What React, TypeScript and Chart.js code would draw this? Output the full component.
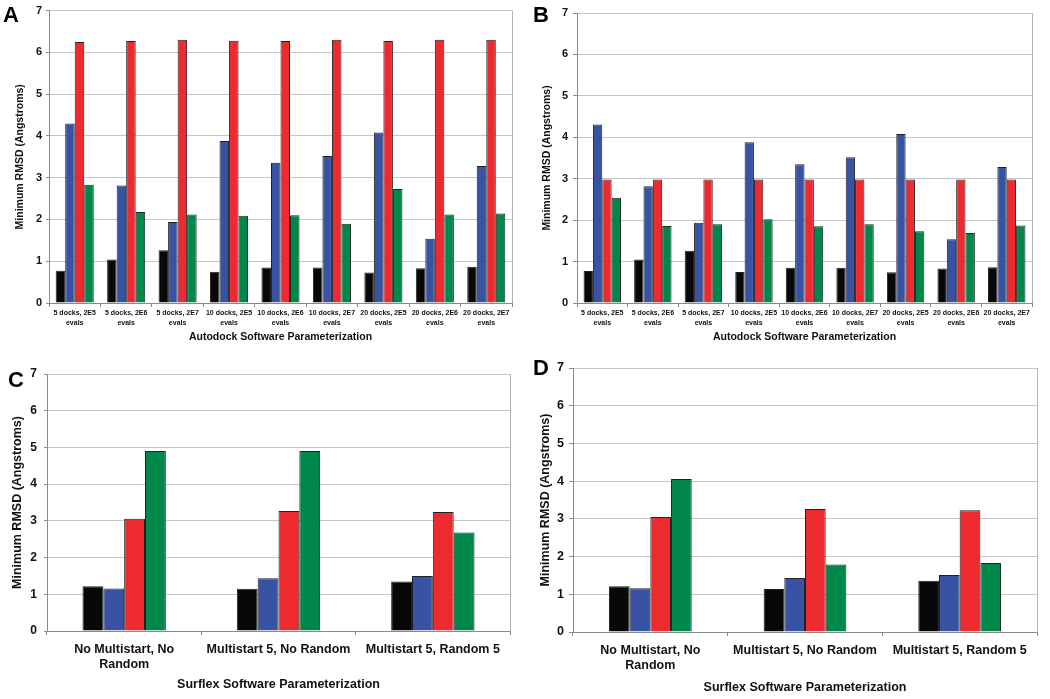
import React, { useEffect, useRef } from "react";
import { Chart, registerables } from "chart.js";

Chart.register(...registerables);

const FONT = "'Liberation Sans', Arial, Helvetica, sans-serif";

// ---------- data ----------
const autodockCategories: (string | string[])[] = [
  ["5 docks, 2E5", "evals"],
  ["5 docks, 2E6", "evals"],
  ["5 docks, 2E7", "evals"],
  ["10 docks, 2E5", "evals"],
  ["10 docks, 2E6", "evals"],
  ["10 docks, 2E7", "evals"],
  ["20 docks, 2E5", "evals"],
  ["20 docks, 2E6", "evals"],
  ["20 docks, 2E7", "evals"],
];
const surflexCategories: (string | string[])[] = [
  ["No Multistart, No", "Random"],
  "Multistart 5, No Random",
  "Multistart 5, Random 5",
];
const yTickValues = [0, 1, 2, 3, 4, 5, 6, 7];
const yAxisTitle = "Minimum RMSD (Angstroms)";
const autodockAxisTitle = "Autodock Software Parameterization";
const surflexAxisTitle = "Surflex Software Parameterization";

const seriesNames = ["Series 1", "Series 2", "Series 3", "Series 4"];
const seriesColors = ["#080808", "#3953a4", "#ed2a30", "#00884a"];

// Panel A
const aSeries1 = [0.77, 1.04, 1.26, 0.75, 0.85, 0.85, 0.73, 0.83, 0.87];
const aSeries2 = [4.3, 2.81, 1.94, 3.88, 3.36, 3.52, 4.08, 1.54, 3.28];
const aSeries3 = [6.25, 6.27, 6.3, 6.28, 6.27, 6.3, 6.27, 6.3, 6.3];
const aSeries4 = [2.83, 2.18, 2.12, 2.09, 2.1, 1.9, 2.73, 2.12, 2.14];

// Panel B
const bSeries1 = [0.77, 1.05, 1.26, 0.75, 0.85, 0.85, 0.74, 0.83, 0.86];
const bSeries2 = [4.31, 2.82, 1.94, 3.88, 3.35, 3.52, 4.08, 1.54, 3.28];
const bSeries3 = [2.98, 2.98, 2.98, 2.98, 2.98, 2.98, 2.98, 2.98, 2.98];
const bSeries4 = [2.54, 1.86, 1.9, 2.02, 1.85, 1.9, 1.73, 1.69, 1.87];

// Panel C
const cSeries1 = [1.22, 1.15, 1.35];
const cSeries2 = [1.16, 1.44, 1.5];
const cSeries3 = [3.06, 3.27, 3.24];
const cSeries4 = [4.9, 4.9, 2.68];

// Panel D
const dSeries1 = [1.21, 1.14, 1.36];
const dSeries2 = [1.16, 1.43, 1.51];
const dSeries3 = [3.05, 3.26, 3.23];
const dSeries4 = [4.06, 1.79, 1.83];

// ---------- layout ----------
type Geo = {
  x: number; y: number; w: number; h: number;
  areaL: number; areaR: number; areaT: number; areaB: number;
  yTickFont: number; yTickPad: number; yTickLen: number;
  yTitleFont: number; yTitleCenter: number;
  xTickFont: number; xTickLH: number; xTickPad: number;
  xTitleFont: number; xTitleCenter: number;
  catPct: number;
};

const frameBorder = {
  id: "frameBorder",
  afterDatasetsDraw(chart: any) {
    const { ctx, chartArea } = chart;
    ctx.save();
    ctx.strokeStyle = "#b4b4b4";
    ctx.lineWidth = 1;
    ctx.beginPath();
    const x = Math.round(chartArea.right) + 0.5;
    ctx.moveTo(x, chartArea.top);
    ctx.lineTo(x, chartArea.bottom);
    ctx.stroke();
    ctx.restore();
  },
};

function Panel(props: {
  geo: Geo;
  labels: (string | string[])[];
  series: number[][];
  xTitle: string;
}) {
  const ref = useRef<HTMLCanvasElement | null>(null);
  const { geo, labels, series, xTitle } = props;

  useEffect(() => {
    if (!ref.current) return;
    const g = geo;
    const yTitleLH = g.yTitleFont * 1.2;
    const xTitleLH = g.xTitleFont * 1.2;
    const chart = new Chart(ref.current, {
      type: "bar",
      data: {
        labels,
        datasets: series.map((vals, i) => ({
          label: seriesNames[i],
          data: vals,
          backgroundColor: seriesColors[i],
          borderColor: "#222222",
          borderWidth: 1,
          categoryPercentage: g.catPct,
          barPercentage: 1,
        })),
      },
      options: {
        responsive: false,
        animation: false,
        events: [],
        layout: {
          padding: { left: 0, top: g.areaT, right: g.w - g.areaR, bottom: 0 },
        },
        plugins: {
          legend: { display: false },
          tooltip: { enabled: false },
        },
        scales: {
          x: {
            offset: true,
            grid: {
              display: true,
              drawOnChartArea: false,
              drawTicks: true,
              tickLength: 4,
              tickColor: "#8a8a8a",
              offset: true,
            },
            border: { display: true, color: "#8a8a8a", width: 1 },
            ticks: {
              color: "#111",
              padding: g.xTickPad,
              maxRotation: 0,
              autoSkip: false,
              font: { family: FONT, size: g.xTickFont, weight: "bold", lineHeight: g.xTickLH },
            },
            title: {
              display: true,
              text: xTitle,
              color: "#111",
              font: { family: FONT, size: g.xTitleFont, weight: "bold", lineHeight: 1.2 },
              padding: { top: 0, bottom: g.h - g.xTitleCenter - xTitleLH / 2 },
            },
            afterFit: (s: any) => {
              s.height = g.h - g.areaB;
            },
          },
          y: {
            min: 0,
            max: 7,
            afterBuildTicks: (s: any) => {
              s.ticks = yTickValues.map((v) => ({ value: v }));
            },
            grid: {
              color: "#c6c6c6",
              lineWidth: 1,
              drawTicks: true,
              tickLength: g.yTickLen,
              tickColor: "#8a8a8a",
            },
            border: { display: true, color: "#8a8a8a", width: 1 },
            ticks: {
              color: "#111",
              padding: g.yTickPad,
              font: { family: FONT, size: g.yTickFont, weight: "bold" },
            },
            title: {
              display: true,
              text: yAxisTitle,
              color: "#111",
              font: { family: FONT, size: g.yTitleFont, weight: "bold", lineHeight: 1.2 },
              padding: { top: g.yTitleCenter - yTitleLH / 2, bottom: 0 },
            },
            afterFit: (s: any) => {
              s.width = g.areaL;
            },
          },
        },
      },
      plugins: [frameBorder],
    });
    return () => chart.destroy();
  }, []);

  return (
    <canvas
      ref={ref}
      width={geo.w}
      height={geo.h}
      style={{ position: "absolute", left: geo.x, top: geo.y, width: geo.w, height: geo.h, display: "block" }}
    />
  );
}

const geoA: Geo = {
  x: 0, y: 0, w: 520, h: 345,
  areaL: 49, areaR: 512, areaT: 7, areaB: 303,
  yTickFont: 11, yTickPad: 4, yTickLen: 3,
  yTitleFont: 10.5, yTitleCenter: 20,
  xTickFont: 7, xTickLH: 1.3, xTickPad: 2,
  xTitleFont: 10.5, xTitleCenter: 337,
  catPct: 0.74,
};
const geoB: Geo = {
  x: 520, y: 0, w: 530, h: 345,
  areaL: 57, areaR: 512, areaT: 13, areaB: 303,
  yTickFont: 11, yTickPad: 5, yTickLen: 4,
  yTitleFont: 10.5, yTitleCenter: 27,
  xTickFont: 7, xTickLH: 1.3, xTickPad: 2,
  xTitleFont: 10.5, xTitleCenter: 337,
  catPct: 0.74,
};
const geoC: Geo = {
  x: 0, y: 345, w: 520, h: 354,
  areaL: 47, areaR: 510, areaT: 29, areaB: 286,
  yTickFont: 12, yTickPad: 7, yTickLen: 3,
  yTitleFont: 12.5, yTitleCenter: 17.5,
  xTickFont: 12.5, xTickLH: 1.2, xTickPad: 7.5,
  xTitleFont: 12.5, xTitleCenter: 340,
  catPct: 0.54,
};
const geoD: Geo = {
  x: 520, y: 345, w: 530, h: 354,
  areaL: 53, areaR: 517, areaT: 23, areaB: 287,
  yTickFont: 12.5, yTickPad: 5, yTickLen: 4,
  yTitleFont: 12.5, yTitleCenter: 25.5,
  xTickFont: 12.5, xTickLH: 1.2, xTickPad: 7.5,
  xTitleFont: 12.5, xTitleCenter: 343,
  catPct: 0.535,
};

const letterStyle = (left: number, baseline: number): React.CSSProperties => ({
  position: "absolute",
  left,
  top: baseline - 0.8465 * 22,
  fontFamily: FONT,
  fontWeight: "bold",
  fontSize: 22,
  lineHeight: "22px",
  color: "#000",
});

export default function App() {
  return (
    <div style={{ position: "absolute", left: 0, top: 0, width: 1050, height: 699, background: "#fff", overflow: "hidden" }}>
      <Panel geo={geoA} labels={autodockCategories} series={[aSeries1, aSeries2, aSeries3, aSeries4]} xTitle={autodockAxisTitle} />
      <Panel geo={geoB} labels={autodockCategories} series={[bSeries1, bSeries2, bSeries3, bSeries4]} xTitle={autodockAxisTitle} />
      <Panel geo={geoC} labels={surflexCategories} series={[cSeries1, cSeries2, cSeries3, cSeries4]} xTitle={surflexAxisTitle} />
      <Panel geo={geoD} labels={surflexCategories} series={[dSeries1, dSeries2, dSeries3, dSeries4]} xTitle={surflexAxisTitle} />
      <div style={letterStyle(3, 23)}>A</div>
      <div style={letterStyle(533, 23)}>B</div>
      <div style={letterStyle(8, 388)}>C</div>
      <div style={letterStyle(533, 376)}>D</div>
    </div>
  );
}
